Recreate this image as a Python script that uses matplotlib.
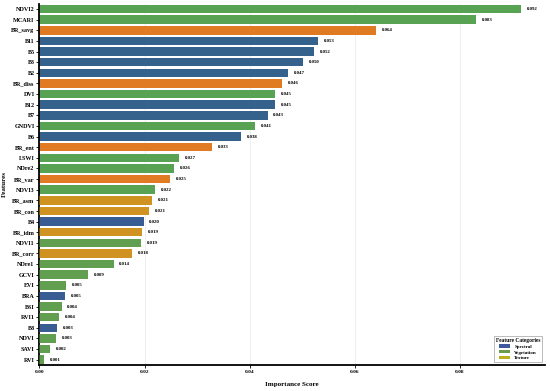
import numpy as np
import matplotlib.pyplot as plt
from matplotlib.patches import Patch

# feature importance, sorted high -> low
features = ["NDVI2", "MCARI", "BR_savg", "B11", "B5", "B3", "B2", "BR_diss",
            "DVI", "B12", "B7", "GNDVI", "B6", "BR_ent", "LSWI", "NDre2",
            "BR_var", "NDVI3", "BR_asm", "BR_con", "B4", "BR_idm", "NDVI1",
            "BR_corr", "NDre1", "GCVI", "EVI", "BRA", "BSI", "RVI1", "B8",
            "NDVI", "SAVI", "RVI"]
importance = [0.0917, 0.0831, 0.0640, 0.0530, 0.0522, 0.0502, 0.0473, 0.0462,
              0.0448, 0.0448, 0.0434, 0.0411, 0.0383, 0.0329, 0.0266, 0.0256,
              0.0249, 0.0220, 0.0214, 0.0209, 0.0198, 0.0195, 0.0193, 0.0176,
              0.0141, 0.0092, 0.0050, 0.0048, 0.0042, 0.0037, 0.0034, 0.0031,
              0.0020, 0.0009]
category = ["Vegetation", "Vegetation", "Texture", "Spectral", "Spectral",
            "Spectral", "Spectral", "Texture", "Vegetation", "Spectral",
            "Spectral", "Vegetation", "Spectral", "Texture", "Vegetation",
            "Vegetation", "Texture", "Vegetation", "Texture", "Texture",
            "Spectral", "Texture", "Vegetation", "Texture", "Vegetation",
            "Vegetation", "Vegetation", "Spectral", "Vegetation", "Vegetation",
            "Spectral", "Vegetation", "Vegetation", "Vegetation"]
categories = ["Spectral", "Vegetation", "Texture"]

bar_colors = {"Spectral": "#35628c", "Vegetation": "#58a253", "Texture": "#e07b24"}
legend_colors = {"Spectral": "#3f579c", "Vegetation": "#6d9b4b", "Texture": "#bdb01c"}

plt.rcParams['font.family'] = ['Liberation Serif', 'DejaVu Serif']
plt.rcParams['font.weight'] = 'bold'

fig = plt.figure(figsize=(5.5, 3.91), dpi=100)
ax = fig.add_axes([0.0718, 0.0665, 0.919, 0.924])

y = np.arange(len(features))
ax.barh(y, importance, height=0.8, color=[bar_colors[c] for c in category],
        zorder=2)
# second, lighter pass on the lower half (mixes in the legend colours)
low = y >= 18
ax.barh(y[low], np.array(importance)[low], height=0.8,
        color=[legend_colors[c] for c, m in zip(category, low) if m],
        alpha=0.45, zorder=3)

for yi, v in zip(y, importance):
    ax.text(v + 0.0011, yi, f"{v:.3f}", va='center', ha='left',
            fontsize=3.5, fontweight='bold')

ax.set_yticks(y)
ax.set_yticklabels(features, fontsize=4.4, fontweight='bold')
ax.set_ylim(len(features) - 0.5, -0.5)
ax.set_xlim(0, 0.0962)
ax.set_xticks([0.0, 0.02, 0.04, 0.06, 0.08])
ax.set_xticklabels([f"{t:.2f}" for t in ax.get_xticks()], fontsize=3.9,
                   fontweight='bold')
ax.tick_params(axis='both', length=2, width=0.6, pad=1.5)

ax.set_xlabel("Importance Score", fontsize=5, fontweight='bold', labelpad=6)
ax.set_ylabel("Features", fontsize=5, fontweight='bold', labelpad=3)

ax.grid(axis='x', color='#e8e8e8', linewidth=0.5, zorder=0)
ax.set_axisbelow(True)
for s in ['top', 'right']:
    ax.spines[s].set_visible(False)
for s in ['left', 'bottom']:
    ax.spines[s].set_linewidth(1.3)

handles = [Patch(facecolor=legend_colors[c], label=c) for c in categories]
leg = ax.legend(handles=handles, title="Feature Categories", loc='lower right',
                fontsize=3.6, title_fontsize=4, frameon=True, fancybox=False,
                edgecolor='#888888', handlelength=2.2, handleheight=0.6,
                borderpad=0.4, labelspacing=0.3)
leg.get_title().set_fontweight('bold')
leg.get_frame().set_linewidth(0.5)

fig.savefig("out.png", dpi=100)
